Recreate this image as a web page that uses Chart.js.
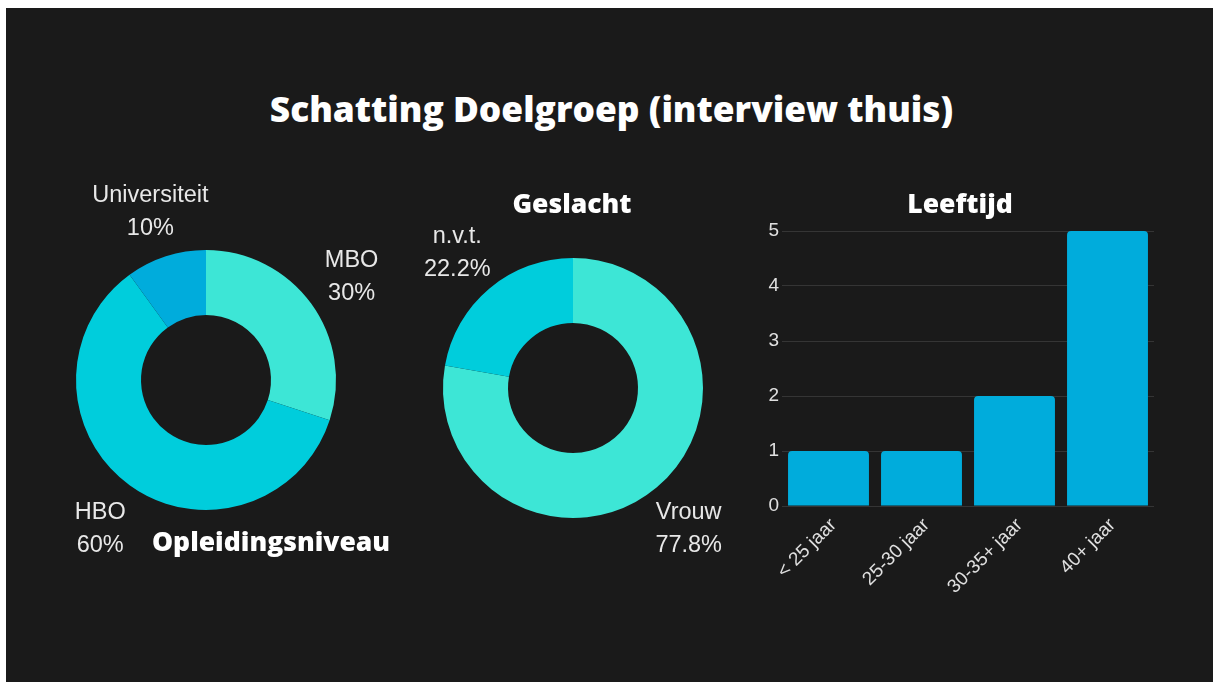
<!DOCTYPE html>
<html>
<head>
<meta charset="utf-8">
<script src="https://cdn.jsdelivr.net/npm/chart.js@4/dist/chart.umd.min.js"></script>
<style>
  html, body { margin: 0; padding: 0; background: #fff; }
  #page {
    position: absolute; left: 6px; top: 8px; width: 1207px; height: 674px;
    background: #1a1a1a; overflow: hidden;
  }
  .box { position: absolute; }
  .ttl {
    position: absolute; color: #fff; font-family: "Open Sans", sans-serif;
    font-weight: 800; line-height: 1; white-space: nowrap;
  }
</style>
</head>
<body>
<div id="page">
  <div class="box" style="left:10px; top:142px; width:380px; height:460px;"><canvas id="opleiding"></canvas></div>
  <div class="box" style="left:377px; top:150px; width:380px; height:460px;"><canvas id="geslacht"></canvas></div>
  <div class="box" style="left:734px; top:207px; width:430px; height:420px;"><canvas id="leeftijd"></canvas></div>

  <div class="ttl" style="left:2px; width:1207px; text-align:center; top:83px; font-size:35.3px;">Schatting Doelgroep (interview thuis)</div>
  <div class="ttl" style="left:146px; top:520px; font-size:26.5px;">Opleidingsniveau</div>
  <div class="ttl" style="left:366px; width:400px; text-align:center; top:182px; font-size:26.5px;">Geslacht</div>
  <div class="ttl" style="left:754px; width:400px; text-align:center; top:182px; font-size:26.5px;">Leeftijd</div>
</div>
<script>
// opleidingsniveau (donut 1)
const opleidingLabels = ["MBO", "HBO", "Universiteit"];
const opleidingValues = [3, 6, 1];
const opleidingColors = ["#3de6d6", "#00cddc", "#00acdc"];

// geslacht (donut 2)
const geslachtLabels = ["Vrouw", "n.v.t."];
const geslachtValues = [7, 2];
const geslachtColors = ["#3de6d6", "#00cddc"];

// leeftijd (bars)
const leeftijdLabels = ["< 25 jaar", "25-30 jaar", "30-35+ jaar", "40+ jaar"];
const leeftijdValues = [1, 1, 2, 5];

Chart.defaults.font.family = '"Liberation Sans", Arial, sans-serif';
Chart.defaults.color = "#e6e6e6";
Chart.defaults.animation = false;

function pct(v, total) {
  let p = (v / total * 100).toFixed(1);
  if (p.endsWith(".0")) p = p.slice(0, -2);
  return p + "%";
}

// labels outside the ring, on the middle of each slice
const outsideLabels = {
  id: "outsideLabels",
  afterDatasetsDraw(chart) {
    const ctx = chart.ctx;
    const data = chart.data.datasets[0].data;
    const total = data.reduce((a, b) => a + b, 0);
    ctx.save();
    ctx.font = '23.5px "Liberation Sans", Arial, sans-serif';
    ctx.fillStyle = "#e8e8e8";
    ctx.textAlign = "center";
    ctx.textBaseline = "middle";
    chart.getDatasetMeta(0).data.forEach((arc, i) => {
      const p = arc.getProps(["x", "y", "startAngle", "endAngle", "outerRadius"], true);
      const mid = (p.startAngle + p.endAngle) / 2;
      const r = p.outerRadius + 50;
      const lx = p.x + Math.cos(mid) * r;
      const ly = p.y + Math.sin(mid) * r + 3;
      ctx.fillText(chart.data.labels[i], lx, ly - 16.5);
      ctx.fillText(pct(data[i], total), lx, ly + 16.5);
    });
    ctx.restore();
  }
};

function donut(id, labels, values, colors) {
  return new Chart(document.getElementById(id), {
    type: "doughnut",
    data: {
      labels: labels,
      datasets: [{ data: values, backgroundColor: colors, borderWidth: 0 }]
    },
    options: {
      responsive: true,
      maintainAspectRatio: false,
      cutout: "50%",
      layout: { padding: { left: 60, right: 60, top: 100, bottom: 100 } },
      plugins: { legend: { display: false }, tooltip: { enabled: false } }
    },
    plugins: [outsideLabels]
  });
}

donut("opleiding", opleidingLabels, opleidingValues, opleidingColors);
donut("geslacht", geslachtLabels, geslachtValues, geslachtColors);

new Chart(document.getElementById("leeftijd"), {
  type: "bar",
  data: {
    labels: leeftijdLabels,
    datasets: [{
      data: leeftijdValues,
      backgroundColor: "#00acdc",
      borderRadius: 4,
      categoryPercentage: 1,
      barPercentage: 0.87
    }]
  },
  options: {
    responsive: true,
    maintainAspectRatio: false,
    layout: { padding: { left: 0, right: 16, top: 16, bottom: 0 } },
    plugins: { legend: { display: false }, tooltip: { enabled: false } },
    scales: {
      x: {
        grid: { display: false },
        border: { display: false },
        ticks: { font: { size: 19 }, color: "#e0e0e0", minRotation: 45, maxRotation: 45, autoSkip: false, padding: 0, labelOffset: 5 },
        afterFit(scale) { scale.height = 129; }
      },
      y: {
        min: 0,
        max: 5,
        grid: { color: "#353535", lineWidth: 1, drawTicks: false },
        border: { display: false },
        ticks: { stepSize: 1, font: { size: 19 }, color: "#e0e0e0", padding: 3 },
        afterFit(scale) { scale.width = 42; }
      }
    }
  }
});
</script>
</body>
</html>
